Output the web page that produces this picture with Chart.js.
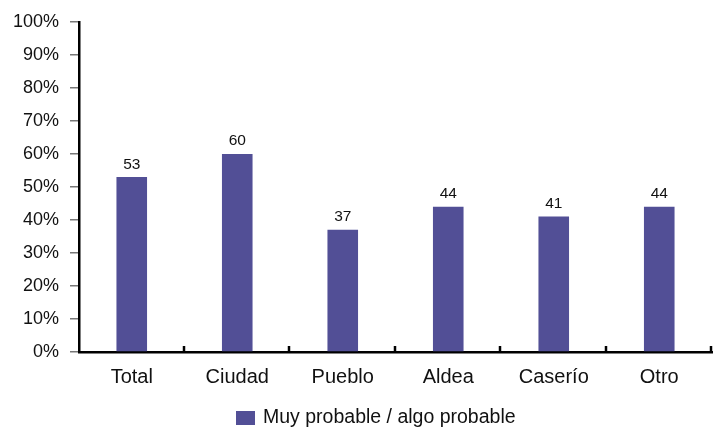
<!DOCTYPE html>
<html>
<head>
<meta charset="utf-8">
<script src="https://cdn.jsdelivr.net/npm/chart.js@4.4.1/dist/chart.umd.min.js"></script>
<style>
  body { margin: 0; background: #fff; }
  canvas { display: block; }
</style>
</head>
<body>
<canvas id="chart" width="713" height="427"></canvas>
<script>
const categories = ["Total", "Ciudad", "Pueblo", "Aldea", "Caserío", "Otro"];
const values = [53, 60, 37, 44, 41, 44];
const seriesName = "Muy probable / algo probable";
const yTicks = [0, 10, 20, 30, 40, 50, 60, 70, 80, 90, 100];

const FONT = "'Liberation Sans', Arial, Helvetica, sans-serif";
const BAR_COLOR = "#524f96";

// value labels above bars, inward ticks on x axis, legend at bottom
const extras = {
  id: "extras",
  afterDatasetsDraw(chart) {
    const ctx = chart.ctx;
    const meta = chart.getDatasetMeta(0);
    ctx.save();
    ctx.font = "15.5px " + FONT;
    ctx.fillStyle = "#111";
    ctx.textAlign = "center";
    ctx.textBaseline = "bottom";
    meta.data.forEach((bar, i) => {
      ctx.fillText(values[i], bar.x, bar.y - 5);
    });
    ctx.restore();
  },
  afterDraw(chart) {
    const ctx = chart.ctx;
    const area = chart.chartArea;
    ctx.save();
    ctx.strokeStyle = "#000";
    ctx.lineWidth = 2.5;
    const step = (area.right - area.left) / categories.length;
    for (let i = 1; i <= categories.length; i++) {
      const px = Math.round(area.left + step * i) - 1;
      ctx.beginPath();
      ctx.moveTo(px, area.bottom + 1);
      ctx.lineTo(px, area.bottom - 6);
      ctx.stroke();
    }
    // legend
    ctx.fillStyle = BAR_COLOR;
    ctx.fillRect(236, 411, 19, 14);
    ctx.font = "19.5px " + FONT;
    ctx.fillStyle = "#111";
    ctx.textAlign = "left";
    ctx.textBaseline = "middle";
    ctx.fillText(seriesName, 263, 418);
    ctx.restore();
  }
};

new Chart(document.getElementById("chart"), {
  type: "bar",
  data: {
    labels: categories,
    datasets: [{
      label: seriesName,
      data: values,
      backgroundColor: BAR_COLOR,
      barPercentage: 0.29,
      categoryPercentage: 1.0
    }]
  },
  options: {
    responsive: false,
    animation: false,
    layout: { padding: { top: 20, right: 1, left: 0, bottom: 0 } },
    plugins: {
      legend: { display: false },
      tooltip: { enabled: false }
    },
    scales: {
      x: {
        afterFit: (s) => { s.height = 75; },
        grid: { display: false, drawTicks: false },
        border: { display: true, color: "#000", width: 2.5 },
        ticks: { color: "#111", font: { family: FONT, size: 20 }, padding: 13 }
      },
      y: {
        min: 0,
        max: 100,
        afterFit: (s) => { s.width = 79; },
        afterBuildTicks: (s) => { s.ticks = yTicks.map((v) => ({ value: v })); },
        grid: { drawOnChartArea: false, drawTicks: true, tickLength: 9, color: "#777", lineWidth: 1.5 },
        border: { display: true, color: "#000", width: 2.5 },
        ticks: {
          color: "#111",
          font: { family: FONT, size: 18 },
          padding: 11,
          callback: (v) => v + "%"
        }
      }
    }
  },
  plugins: [extras]
});
</script>
</body>
</html>
